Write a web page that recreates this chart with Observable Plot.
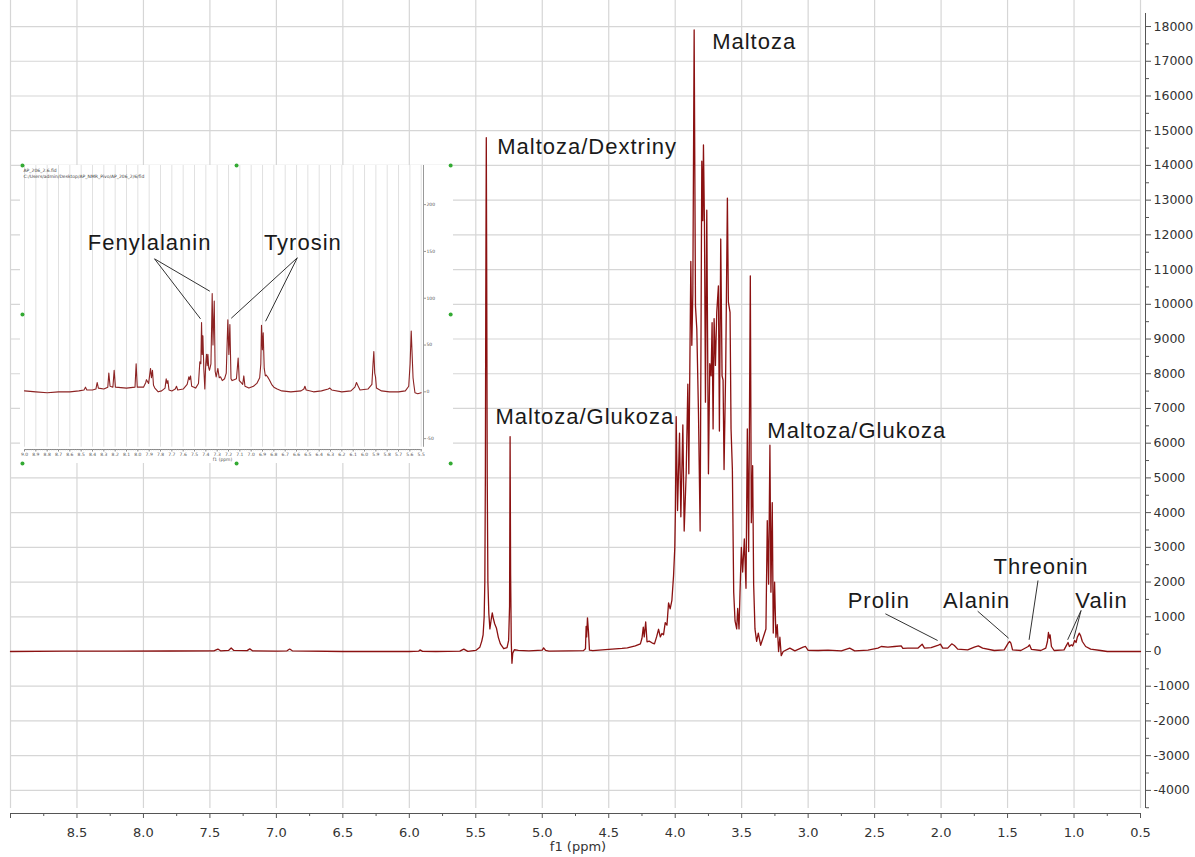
<!DOCTYPE html>
<html><head><meta charset="utf-8">
<script src="https://cdn.jsdelivr.net/npm/d3@7"></script>
<script src="https://cdn.jsdelivr.net/npm/@observablehq/plot@0.6"></script>
<style>
html,body{margin:0;padding:0;background:#fff;}
#wrap{position:relative;width:1195px;height:857px;overflow:hidden;background:#fff;}
#main{position:absolute;left:0;top:0;}
#insetBg{position:absolute;left:20px;top:165px;width:433px;height:298px;background:#fff;}
#inset{position:absolute;left:17px;top:160px;}
</style></head><body>
<div id="wrap"><div id="main"></div><div id="insetBg"></div><div id="inset"></div></div>
<script>
// ---------- DATA ----------
const yTickValues = [-4000,-3000,-2000,-1000,0,1000,2000,3000,4000,5000,6000,7000,8000,9000,10000,11000,12000,13000,14000,15000,16000,17000,18000];
const yMinorValues = [-4500,-3500,-2500,-1500,-500,500,1500,2500,3500,4500,5500,6500,7500,8500,9500,10500,11500,12500,13500,14500,15500,16500,17500];
const xTickValues = [8.5,8.0,7.5,7.0,6.5,6.0,5.5,5.0,4.5,4.0,3.5,3.0,2.5,2.0,1.5,1.0,0.5];
const xMinorValues = [8.75,8.25,7.75,7.25,6.75,6.25,5.75,5.25,4.75,4.25,3.75,3.25,2.75,2.25,1.75,1.25,0.75];
const xGridValues = [9.0,8.5,8.0,7.5,7.0,6.5,6.0,5.5,5.0,4.5,4.0,3.5,3.0,2.5,2.0,1.5,1.0,0.5];

// main 1H NMR spectrum: [ppm, intensity]
const mainSpectrum = [
[9.00,0],[8.60,10],[8.20,10],[7.80,15],[7.47,20],[7.44,70],[7.42,20],[7.36,30],[7.34,100],[7.32,30],[7.22,25],[7.20,75],[7.18,20],[7.00,10],[6.92,20],[6.90,70],[6.88,20],[6.50,0],[6.00,0],[5.93,10],[5.92,45],[5.90,5],[5.80,0],[5.62,10],[5.59,70],[5.56,5],[5.50,30],[5.47,120],
[5.455,300],[5.445,480],[5.437,1000],[5.432,2000],[5.428,5000],[5.425,10000],[5.421,14800],[5.418,11000],[5.414,5000],[5.409,2000],[5.402,1100],[5.394,650],[5.385,900],[5.376,1110],[5.368,950],[5.358,800],[5.345,680],[5.33,400],[5.315,220],[5.29,80],[5.265,110],[5.253,320],[5.246,1300],[5.242,6190],[5.238,2200],[5.233,250],[5.228,-340],[5.222,-50],[5.21,50],[5.18,30],[5.10,20],[5.00,40],[4.99,106],[4.975,30],[4.95,10],[4.80,20],[4.69,25],
[4.675,80],[4.670,720],[4.666,420],[4.660,970],[4.652,550],[4.645,40],[4.62,25],[4.50,60],[4.40,90],[4.36,106],[4.30,160],[4.262,220],[4.25,380],[4.24,700],[4.233,420],[4.222,850],[4.212,280],[4.196,300],[4.175,250],[4.156,220],[4.14,420],[4.125,640],[4.112,420],[4.10,520],[4.088,480],[4.075,830],[4.062,760],[4.05,1400],[4.038,1230],[4.025,1470],[4.0125,2180],[4.003,3000],[3.9985,4060],
[3.9925,6765],[3.9825,4060],[3.9675,6290],[3.9575,3880],[3.9425,6530],[3.9325,3470],[3.9175,5120],[3.905,7700],[3.8975,5120],[3.8825,11235],[3.875,8820],[3.8675,10290],[3.8575,17900],[3.8475,9940],[3.8375,9290],[3.825,6880],[3.8125,3470],[3.80,14120],[3.7925,12410],[3.7875,14590],[3.78,12350],[3.7725,7180],[3.7625,12710],[3.75,5120],[3.74,8290],[3.73,7940],[3.7225,9470],[3.715,6410],[3.7075,9590],[3.6975,8240],[3.6875,9770],[3.675,10530],[3.6675,6350],[3.6575,11880],[3.6475,7940],[3.64,7820],[3.6325,5240],[3.62,8180],[3.6075,13060],[3.60,10060],[3.5875,9770],[3.58,6410],[3.57,5240],[3.56,1710],[3.55,880],[3.5375,650],[3.53,1240],[3.52,650],[3.5125,1710],[3.5025,3000],[3.4925,2290],[3.48,3240],[3.4675,1820],[3.4575,6410],[3.4475,2880],[3.435,10820],[3.4275,3710],[3.4175,5350],[3.41,1940],[3.40,650],[3.3875,290],[3.375,530],[3.3575,180],[3.3375,410],[3.3175,650],[3.3075,3770],[3.2975,1940],[3.2875,5940],[3.28,1710],[3.27,4290],[3.2625,530],[3.2525,2000],[3.2425,410],[3.2325,770],[3.2225,0],[3.2125,410],[3.2025,-120],[3.1875,0],
[3.1375,96],[3.10,20],[3.0375,125],[3.02,144],[3.00,30],[2.925,29],[2.85,40],[2.75,20],[2.6875,96],[2.65,20],[2.55,40],[2.475,96],[2.45,144],[2.40,125],[2.35,144],[2.30,163],[2.2875,90],[2.25,96],[2.175,96],[2.1425,211],[2.125,96],[2.075,110],[2.025,173],[2.005,211],[1.9875,96],[1.95,96],[1.92,221],[1.90,173],[1.875,67],[1.80,48],[1.75,125],[1.72,163],[1.6875,96],[1.60,29],[1.525,48],[1.495,240],[1.485,288],[1.475,240],[1.4625,48],[1.40,29],[1.345,144],[1.335,192],[1.32,60],[1.25,29],[1.2125,96],[1.20,288],[1.1925,547],[1.185,384],[1.18,480],[1.17,144],[1.15,29],[1.075,48],[1.055,192],[1.045,259],[1.035,144],[1.02,192],[1.01,160],[0.995,317],[0.985,260],[0.975,413],[0.96,528],[0.95,451],[0.9375,288],[0.9125,144],[0.875,67],[0.80,29],[0.75,0],[0.50,0]
];

const mainLabels = [
  {text:"Maltoza", ppm:3.722, intensity:17366},
  {text:"Maltoza/Dextriny", ppm:5.339, intensity:14328},
  {text:"Maltoza/Glukoza", ppm:5.352, intensity:6566},
  {text:"Maltoza/Glukoza", ppm:3.307, intensity:6163},
  {text:"Prolin", ppm:2.703, intensity:1267},
  {text:"Alanin", ppm:1.985, intensity:1267},
  {text:"Threonin", ppm:1.605, intensity:2246},
  {text:"Valin", ppm:0.990, intensity:1267}
];
const mainLeaders = [
  {x1:2.419,y1:1086,x2:2.026,y2:317},
  {x1:1.725,y1:1161,x2:1.492,y2:383},
  {x1:1.271,y1:2045,x2:1.338,y2:337},
  {x1:0.947,y1:1181,x2:1.048,y2:337},
  {x1:0.947,y1:1181,x2:1.003,y2:366}
];

// inset (aromatic region) spectrum: [ppm, intensity]
const insetSpectrum = [
[9.00,1],[8.90,0],[8.80,-1],[8.70,0],[8.60,0],[8.52,1],[8.475,2],[8.462,5],[8.45,2],[8.40,2],[8.37,3],[8.359,10],[8.348,4],[8.30,3],[8.265,5],[8.256,20],[8.245,6],[8.22,5],[8.209,23],[8.198,5],[8.10,4],[8.025,5],[8.015,30],[8.005,5],[7.95,5],[7.93,10],[7.924,13],[7.905,9],[7.888,25],[7.88,15],[7.871,23],[7.862,7],[7.85,4],[7.82,0],[7.79,1],[7.76,4],[7.75,14],[7.742,9],[7.735,12],[7.725,2],[7.70,1],[7.67,3],[7.659,6],[7.648,2],[7.60,3],[7.565,8],[7.55,16],[7.543,13],[7.535,17],[7.525,6],[7.49,4],[7.465,9],[7.453,32],[7.444,30],[7.438,74],[7.432,40],[7.426,60],[7.418,25],[7.409,3],[7.401,30],[7.394,40],[7.388,28],[7.382,40],[7.375,26],[7.368,23],[7.355,30],[7.344,105],[7.337,50],[7.326,97],[7.318,22],[7.309,16],[7.294,25],[7.282,15],[7.271,16],[7.255,12],[7.235,14],[7.22,20],[7.206,77],[7.197,40],[7.188,72],[7.178,14],[7.168,12],[7.15,13],[7.13,14],[7.115,36],[7.105,12],[7.09,10],[7.075,8],[7.065,17],[7.055,6],[7.02,4],[6.98,6],[6.95,9],[6.925,15],[6.915,30],[6.909,71],[6.901,45],[6.894,63],[6.885,25],[6.875,17],[6.868,18],[6.855,16],[6.84,13],[6.82,8],[6.80,5],[6.771,3],[6.73,1],[6.65,0],[6.56,1],[6.535,3],[6.526,6],[6.515,2],[6.45,0],[6.38,1],[6.32,3],[6.306,4],[6.29,2],[6.20,0],[6.12,1],[6.085,5],[6.071,10],[6.06,7],[6.04,2],[5.97,3],[5.935,8],[5.925,30],[5.918,43],[5.91,20],[5.903,16],[5.895,4],[5.85,1],[5.78,0],[5.70,0],[5.64,1],[5.61,6],[5.598,30],[5.588,65],[5.58,40],[5.572,15],[5.565,8],[5.555,-1],[5.53,-2],[5.50,-1]
];
const insetXTicks = d3.range(55, 91).map(d => d / 10);
const insetXMinor = d3.range(275, 451).map(d => d / 50);
const insetYTicks = [-50, 0, 50, 100, 150, 200];
const insetLabels = [
  {text:"Fenylalanin", ppm:8.441, intensity:152},
  {text:"Tyrosin", ppm:6.888, intensity:152}
];
const insetLeaders = [
  {x1:7.853,y1:142.1,x2:7.447,y2:78.0},
  {x1:7.853,y1:142.1,x2:7.365,y2:107.5},
  {x1:6.593,y1:143.2,x2:7.176,y2:78.6},
  {x1:6.593,y1:143.2,x2:6.873,y2:75.4}
];
const insetHandles = [
  {ppm:9.018, intensity:241.8},{ppm:7.129, intensity:241.8},{ppm:5.240, intensity:241.8},
  {ppm:9.018, intensity:82.6},{ppm:5.240, intensity:82.6},
  {ppm:9.018, intensity:-76.6},{ppm:7.129, intensity:-76.6},{ppm:5.240, intensity:-76.6}
];
const insetHeader = ["AP_206_2.6.fid", "C:/Users/admin/Desktop/AP_NMR_Pivo/AP_206_2/6/fid"];

// ---------- MAIN CHART ----------
const gridColor = "#d6d6d6";
const lineColor = "#8b1111";
const main = Plot.plot({
  width: 1195, height: 857,
  marginLeft: 10, marginRight: 50, marginTop: 0, marginBottom: 44,
  x: {domain: [9.0, 0.4624], axis: null},
  y: {domain: [-4666, 18750], axis: null},
  style: {fontFamily: "'DejaVu Sans', sans-serif", fontSize: "13px", color: "#333", background: "white", overflow: "visible"},
  marks: [
    Plot.ruleY(yTickValues, {x1: 9.0, x2: 0.5, stroke: gridColor, strokeWidth: 1.2}),
    Plot.ruleX(xGridValues, {y1: -4522, y2: 18750, stroke: gridColor, strokeWidth: 1.2}),
    Plot.ruleX([0.4624], {y1: -4522, y2: 18376, stroke: "#555"}),
    Plot.axisY(yTickValues, {anchor: "right", tickSize: 5, tickPadding: 3, tickFormat: d => String(d), fontSize: 12.5, stroke: "#555"}),
    Plot.axisY(yMinorValues, {anchor: "right", tickSize: 3, tickFormat: () => "", stroke: "#555"}),
    Plot.ruleY([-4666], {x1: 9.0, x2: 0.5, stroke: "#555"}),
    Plot.axisX(xTickValues, {anchor: "bottom", tickSize: 5, tickPadding: 9, tickFormat: d3.format(".1f"), fontSize: 13, stroke: "#555"}),
    Plot.axisX([9.0], {anchor: "bottom", tickSize: 5, tickFormat: () => "", stroke: "#555"}),
    Plot.axisX(xMinorValues, {anchor: "bottom", tickSize: 3, tickFormat: () => "", stroke: "#555"}),
    Plot.text(["f1 (ppm)"], {frameAnchor: "bottom", dy: 37, fontSize: 13, fill: "#333"}),
    Plot.line(mainSpectrum, {x: d => d[0], y: d => d[1], stroke: lineColor, strokeWidth: 1.3}),
    Plot.link(mainLeaders, {x1: "x1", y1: "y1", x2: "x2", y2: "y2", stroke: "#333", strokeWidth: 1}),
    Plot.text(mainLabels, {x: "ppm", y: "intensity", text: "text", textAnchor: "start", lineAnchor: "bottom", fontSize: 22, fontFamily: "'Liberation Sans', Arial, sans-serif", fill: "#1a1a1a"})
  ]
});
document.getElementById("main").appendChild(main);

// ---------- INSET ----------
const inset = Plot.plot({
  width: 439, height: 308,
  marginLeft: 7, marginRight: 33, marginTop: 5, marginBottom: 19,
  x: {domain: [9.0, 5.4797], axis: null},
  y: {domain: [-61.6, 241.8], axis: null},
  style: {fontFamily: "'DejaVu Sans', sans-serif", fontSize: "5px", color: "#555", background: "transparent", overflow: "visible"},
  marks: [
    Plot.ruleX(insetXTicks, {y1: -59.2, y2: 241.8, stroke: "#dedede", strokeWidth: 0.9}),
    Plot.ruleX([5.4797], {y1: -59.2, y2: 241.8, stroke: "#999"}),
    Plot.axisY(insetYTicks, {anchor: "right", tickSize: 2, tickPadding: 1, tickFormat: d => String(d), fontSize: 4.5, stroke: "#999"}),
    Plot.ruleY([-61.6], {x1: 9.0, x2: 5.5, stroke: "#888"}),
    Plot.axisX(insetXTicks, {anchor: "bottom", tickSize: 2.5, tickPadding: 1, tickFormat: d3.format(".1f"), fontSize: 4.5, stroke: "#888"}),
    Plot.axisX(insetXMinor, {anchor: "bottom", tickSize: 1.2, tickFormat: () => "", stroke: "#999"}),
    Plot.text(["f1 (ppm)"], {x: 7.253, frameAnchor: "bottom", dy: 11, fontSize: 4.5, fill: "#555"}),
    Plot.text(insetHeader.slice(0, 1), {frameAnchor: "top-left", dx: -1, dy: 3, textAnchor: "start", fontSize: 4.5, fill: "#444"}),
    Plot.text(insetHeader.slice(1), {frameAnchor: "top-left", dx: -1, dy: 9, textAnchor: "start", fontSize: 4.5, fill: "#444"}),
    Plot.line(insetSpectrum, {x: d => d[0], y: d => d[1], stroke: "#8c2323", strokeWidth: 1.1}),
    Plot.link(insetLeaders, {x1: "x1", y1: "y1", x2: "x2", y2: "y2", stroke: "#333", strokeWidth: 1}),
    Plot.text(insetLabels, {x: "ppm", y: "intensity", text: "text", textAnchor: "start", lineAnchor: "bottom", fontSize: 22, fontFamily: "'Liberation Sans', Arial, sans-serif", fill: "#1a1a1a"}),
    Plot.dot(insetHandles, {x: "ppm", y: "intensity", r: 2, fill: "#33aa33"})
  ]
});
document.getElementById("inset").appendChild(inset);

for (const svg of [main, inset]) {
  svg.querySelectorAll('g[font-size="22"]').forEach(g => { g.style.letterSpacing = "1px"; });
}
</script>
</body></html>
